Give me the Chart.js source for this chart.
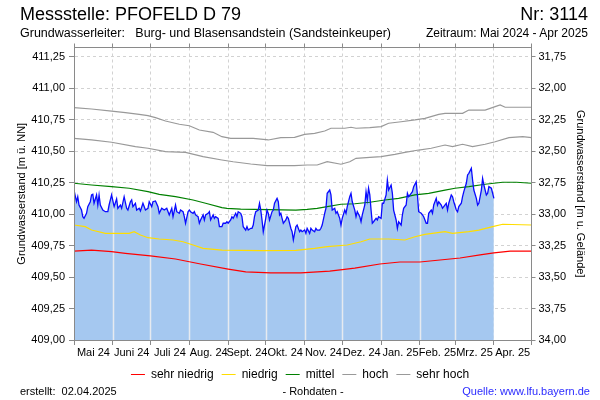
<!DOCTYPE html>
<html><head><meta charset="utf-8">
<script src="https://cdn.jsdelivr.net/npm/chart.js@4.4.1/dist/chart.umd.min.js"></script>
<style>
html,body{margin:0;padding:0;background:#fff;}
#wrap{position:relative;width:600px;height:400px;font-family:'Liberation Sans',Arial,sans-serif;color:#000;overflow:hidden;}
#c{position:absolute;left:0;top:0;}
.t{position:absolute;white-space:pre;line-height:1;}
</style></head><body>
<div id="wrap">
<canvas id="c" width="600" height="400"></canvas>
<div class="t" style="left:20px;top:5px;font-size:18px;">Messstelle: PFOFELD D 79</div>
<div class="t" style="right:12px;top:5px;font-size:18px;">Nr: 3114</div>
<div class="t" style="left:20px;top:27px;font-size:12.5px;">Grundwasserleiter:   Burg- und Blasensandstein (Sandsteinkeuper)</div>
<div class="t" style="right:12px;top:27px;font-size:12px;">Zeitraum: Mai 2024 - Apr 2025</div>
<div class="t" style="left:20px;top:386px;font-size:11px;">erstellt:  02.04.2025</div>
<div class="t" style="left:313px;top:386px;font-size:11px;transform:translateX(-50%);">- Rohdaten -</div>
<div class="t" style="right:10px;top:386px;font-size:11px;color:#2b2bff;">Quelle: www.lfu.bayern.de</div>
</div>
<script>
// ---- Daten ----
const startJahr = 2024, startMonat = 4; // Mai 2024
const monatsNamen = ['Mai 24','Juni 24','Juli 24','Aug. 24','Sept. 24','Okt. 24','Nov. 24','Dez. 24','Jan. 25','Feb. 25','Mrz. 25','Apr. 25'];
const geländeHöhe = 443.00;
const linksTicks = [409.00,409.25,409.50,409.75,410.00,410.25,410.50,410.75,411.00,411.25];
const rechtsTicks = [31.75,32.00,32.25,32.50,32.75,33.00,33.25,33.50,33.75,34.00];

// Messwerte (Tage seit 01.05.2024)
const messTage = [
 0,2,3,4,6,7,8,10,11,13,
 14,15,16,18,19,20,21,23,25,27,
 28,30,31,32,34,35,37,38,40,42,
 43,45,46,47,49,50,52,53,55,57,
 59,60,62,63,65,67,68,70,72,74,
 76,78,79,81,82,84,85,87,88,89,
 91,92,93,95,96,97,99,100,101,103,
 104,105,107,108,109,111,112,113,115,116,
 118,119,121,122,123,125,126,127,129,130,
 131,133,134,135,137,138,139,141,142,143,
 144,145,147,148,149,150,151,153,154,155,
 156,158,159,160,162,163,164,165,166,167,
 169,170,171,173,174,175,177,178,180,181,
 182,184,185,186,188,189,190,192,193,194,
 196,197,198,200,201,202,204,205,206,208,
 209,210,212,213,214,216,217,218,220,221,
 222,224,225,226,228,229,230,232,233,234,
 235,236,237,238,239,241,242,243,245,246,
 247,249,250,251,253,254,255,257,258,259,
 261,262,263,265,266,267,269,270,271,273,
 274,275,277,278,279,281,282,283,285,286,
 287,289,290,291,293,294,295,297,298,299,
 301,302,303,305,306,307,309,310,311,313,
 314,315,317,318,319,321,322,323,325,326,
 327,329,330,331,333,334,335];
const messWerte = [
 410.192,410.099,410.139,410.073,410.033,409.980,409.967,410.007,410.060,410.099,
 410.153,410.158,410.087,410.153,410.073,410.153,410.073,410.033,410.020,410.020,
 410.073,410.153,410.105,410.060,410.121,410.047,410.073,410.047,410.139,410.047,
 410.033,410.099,410.113,410.060,410.087,410.033,410.047,410.025,410.087,410.033,
 410.047,410.099,410.060,410.099,410.105,410.060,410.007,410.047,410.033,410.047,
 409.994,410.047,409.980,410.073,410.020,410.007,410.033,410.020,409.980,409.928,
 410.020,410.033,410.020,410.007,410.020,409.994,409.980,409.928,409.954,409.994,
 409.954,409.994,410.007,410.020,409.954,409.994,409.967,409.980,409.967,409.901,
 409.901,409.928,409.928,409.940,409.928,409.954,409.980,409.967,410.007,409.980,
 410.020,410.007,409.980,409.901,409.874,409.901,409.874,409.888,409.888,409.914,
 409.980,410.020,410.033,410.087,410.033,409.954,409.861,409.967,410.033,410.007,
 409.954,410.020,410.033,410.087,410.126,410.099,409.994,410.007,409.967,409.928,
 409.954,409.980,409.967,409.888,409.861,409.795,409.901,409.914,409.861,409.874,
 409.861,409.874,409.848,409.888,409.848,409.888,409.874,409.861,409.888,409.874,
 409.874,409.888,409.914,410.007,410.047,410.166,410.192,410.153,410.033,410.047,
 410.007,410.020,409.967,409.914,409.967,410.033,410.007,410.060,410.139,410.166,
 410.099,410.033,409.980,410.020,409.980,409.940,409.994,410.073,410.179,410.113,
 410.206,410.153,410.033,409.928,409.940,409.967,409.954,409.980,409.967,410.087,
 410.087,410.153,410.272,410.192,410.232,410.166,410.033,409.954,409.888,409.940,
 409.914,409.994,410.047,410.073,410.166,410.139,410.166,410.179,410.219,410.258,
 410.153,410.020,410.007,409.994,409.980,409.928,409.928,410.007,410.033,410.007,
 410.073,410.126,410.073,410.099,410.073,410.047,410.060,410.087,410.033,410.087,
 410.153,410.139,410.099,410.033,410.020,410.060,410.087,410.139,410.179,410.246,
 410.312,410.325,410.365,410.272,410.192,410.126,410.073,410.087,410.192,410.285,
 410.232,410.153,410.166,410.219,410.206,410.166,410.126];

// Statistische Kennlinien
const sehrNiedrigTage = [0,14,30,41,61,81,101,123,137,157,181,204,224,244,260,276,292,308,324,335,348,365];
const sehrNiedrigWerte = [409.707,409.715,409.702,409.689,409.668,409.644,409.604,409.564,409.541,409.533,409.533,409.548,409.572,409.604,409.620,409.620,409.636,409.652,409.676,409.692,409.707,409.707];
const niedrigTage = [0,9,14,25,44,48,53,59,68,79,87,95,103,118,149,177,192,202,218,229,236,251,264,272,280,296,302,315,323,334,342,365];
const niedrigWerte = [409.914,409.901,409.874,409.848,409.848,409.861,409.835,409.813,409.803,409.795,409.781,409.755,409.729,409.715,409.710,409.713,409.729,409.742,409.755,409.781,409.803,409.803,409.795,409.821,409.840,409.861,409.848,409.861,409.874,409.901,409.920,409.914];
const mittelTage = [0,14,30,44,59,68,81,95,105,118,122,133,177,186,194,202,213,224,236,248,259,272,283,296,304,315,328,342,353,365];
const mittelWerte = [410.246,410.232,410.219,410.206,410.179,410.158,410.139,410.113,410.087,410.052,410.047,410.041,410.033,410.039,410.047,410.060,410.079,410.083,410.095,410.113,410.126,410.153,410.166,410.192,410.206,410.219,410.238,410.254,410.254,410.246];
const hochTage = [0,14,30,49,59,73,89,103,118,127,141,154,176,186,194,202,213,220,225,236,245,256,264,275,285,296,302,310,318,328,336,347,358,365];
const hochWerte = [410.603,410.590,410.572,410.537,410.524,410.497,410.492,410.457,410.431,410.417,410.399,410.386,410.386,410.391,410.391,410.417,410.397,410.417,410.444,410.452,410.457,410.476,410.492,410.510,410.524,410.550,410.537,410.556,410.537,410.556,410.576,410.608,410.616,410.608];
const sehrHochTage = [0,14,30,41,52,59,65,73,84,92,100,111,118,125,143,155,165,176,184,192,200,205,216,221,225,236,245,251,261,272,280,291,296,310,315,328,336,340,344,365];
const sehrHochWerte = [410.847,410.836,410.820,410.808,410.794,410.783,410.767,410.741,410.715,410.703,410.669,410.651,410.616,410.603,410.603,410.590,410.608,410.611,410.635,410.643,410.661,410.683,410.683,410.691,410.683,410.688,410.696,410.723,410.735,410.749,410.762,410.794,410.802,410.802,410.828,410.828,410.855,410.868,410.850,410.850];

// ---- Aufbau ----
const tag0 = Date.UTC(startJahr, startMonat, 1);
const monatsGrenzen = [];
for (let m = 0; m <= monatsNamen.length; m++) monatsGrenzen.push(Math.round((Date.UTC(startJahr, startMonat + m, 1) - tag0) / 86400000));
const monatsMitten = monatsNamen.map((_, i) => (monatsGrenzen[i] + monatsGrenzen[i + 1]) / 2);
const grenzSet = new Set(monatsGrenzen);
const mitteLabel = new Map(monatsMitten.map((v, i) => [v, monatsNamen[i]]));
const xTickWerte = [...monatsGrenzen, ...monatsMitten].sort((a, b) => a - b);
const xMax = monatsGrenzen[monatsGrenzen.length - 1];
const yMin = 409.0, yMax = 411.325;

const pts = (t, w) => t.map((d, i) => ({x: d, y: w[i]}));
const messPunkte = pts(messTage, messWerte);
const fmt = v => v.toFixed(2).replace('.', ',');

Chart.defaults.font.family = "'Liberation Sans', Arial, sans-serif";
Chart.defaults.color = '#000';

const gitter = '#d2d2d2', achse = '#8a8a8a';

const monatsLinien = {
  id: 'monatsLinien',
  afterDatasetDraw(chart, args) {
    if (args.index !== 0) return;
    const p = args.meta.data;
    if (!p.length) return;
    const a = chart.chartArea, ctx = chart.ctx, xs = chart.scales.x;
    ctx.save();
    ctx.beginPath();
    ctx.moveTo(p[0].x, a.bottom);
    p.forEach(e => ctx.lineTo(e.x, e.y));
    ctx.lineTo(p[p.length - 1].x, a.bottom);
    ctx.closePath();
    ctx.clip();
    ctx.strokeStyle = '#e6eaf0';
    ctx.lineWidth = 1.5;
    monatsGrenzen.slice(1, -1).forEach(d => {
      const px = Math.round(xs.getPixelForValue(d)) + 0.5;
      ctx.beginPath(); ctx.moveTo(px, a.top); ctx.lineTo(px, a.bottom); ctx.stroke();
    });
    ctx.restore();
  }
};

const linie = (label, t, w, farbe, order) => ({
  label, data: pts(t, w), borderColor: farbe, backgroundColor: farbe,
  borderWidth: 1.2, pointRadius: 0, fill: false, tension: 0, order
});

new Chart(document.getElementById('c'), {
  type: 'line',
  data: {
    datasets: [
      {label: 'Fläche', data: messPunkte, borderWidth: 0, borderColor: 'rgba(0,0,0,0)', backgroundColor: 'rgb(165,200,240)', fill: 'start', pointRadius: 0, order: 10},
      {label: 'Grundwasserstand', data: messPunkte, borderColor: '#0a0aff', borderWidth: 1.3, pointRadius: 0, fill: false, order: 0},
      linie('sehr niedrig', sehrNiedrigTage, sehrNiedrigWerte, '#ff0000', 1),
      linie('niedrig', niedrigTage, niedrigWerte, '#ffdd00', 2),
      linie('mittel', mittelTage, mittelWerte, '#008000', 3),
      linie('hoch', hochTage, hochWerte, '#999999', 4),
      linie('sehr hoch', sehrHochTage, sehrHochWerte, '#999999', 5)
    ]
  },
  options: {
    responsive: false, animation: false, devicePixelRatio: 1,
    layout: {padding: {top: 0, left: 0, right: 0, bottom: 9.5}},
    plugins: {
      tooltip: {enabled: false},
      title: {display: false},
      legend: {
        position: 'bottom',
        labels: {
          font: {size: 12}, color: '#000', boxWidth: 14, boxHeight: 0, padding: 8,
          filter: it => it.datasetIndex >= 2
        }
      }
    },
    scales: {
      x: {
        type: 'linear', position: 'bottom', min: 0, max: xMax,
        afterBuildTicks: s => { s.ticks = xTickWerte.map(v => ({value: v})); },
        afterFit: s => { s.height = 20.5; },
        ticks: {autoSkip: false, maxRotation: 0, minRotation: 0, padding: 1, font: {size: 11},
          callback: v => mitteLabel.get(v) || ''},
        grid: {
          color: c => grenzSet.has(c.tick && c.tick.value) ? gitter : 'rgba(0,0,0,0)',
          tickColor: c => grenzSet.has(c.tick && c.tick.value) ? achse : 'rgba(0,0,0,0)',
          tickLength: 5, lineWidth: 1
        },
        border: {display: true, color: achse, width: 1, dash: [3, 3], z: 1}
      },
      xt: {
        type: 'linear', position: 'top', min: 0, max: xMax,
        afterBuildTicks: s => { s.ticks = monatsGrenzen.map(v => ({value: v})); },
        afterFit: s => { s.height = 47.5; },
        ticks: {display: false},
        grid: {drawOnChartArea: false, tickColor: achse, tickLength: 4},
        border: {display: true, color: achse, width: 1, z: 1}
      },
      y: {
        type: 'linear', position: 'left', min: yMin, max: yMax,
        afterBuildTicks: s => { s.ticks = linksTicks.map(v => ({value: v})); },
        afterFit: s => { s.width = 74; },
        ticks: {padding: 4, font: {size: 11}, callback: v => fmt(v)},
        grid: {color: gitter, tickColor: achse, tickLength: 5},
        border: {display: true, color: achse, width: 1, dash: [3, 3], z: 1},
        title: {display: true, text: 'Grundwasserstand [m ü. NN]', font: {size: 11}, color: '#000', padding: {top: 15, bottom: 0}}
      },
      y2: {
        type: 'linear', position: 'right', reverse: true,
        min: geländeHöhe - yMax, max: geländeHöhe - yMin,
        afterBuildTicks: s => { s.ticks = rechtsTicks.map(v => ({value: v})); },
        afterFit: s => { s.width = 68.5; },
        ticks: {padding: 3, font: {size: 11}, callback: v => fmt(v)},
        grid: {drawOnChartArea: false, tickColor: achse, tickLength: 4},
        border: {display: true, color: achse, width: 1, z: 1},
        title: {display: true, text: 'Grundwasserstand [m u. Gelände]', font: {size: 11}, color: '#000', padding: {top: 13.5, bottom: 0}}
      }
    }
  },
  plugins: [monatsLinien]
});
</script>
</body></html>
